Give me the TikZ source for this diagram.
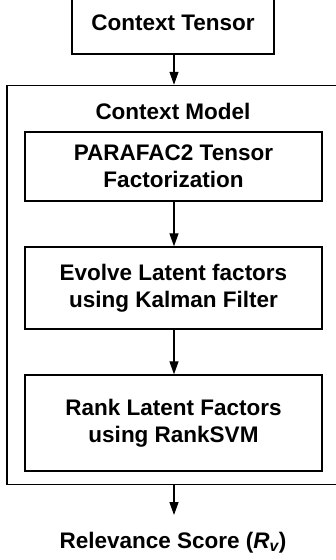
\documentclass[tikz,border=0pt]{standalone}
\usepackage{fontspec}
\setmainfont{Liberation Sans}
\usetikzlibrary{arrows.meta}
\begin{document}
\begin{tikzpicture}[x=1pt,y=-1pt,
  every node/.style={font=\fontsize{22.5}{27}\selectfont\bfseries, align=center, inner sep=0pt},
  box/.style={draw, line width=1.4pt, minimum width=297pt},
  arr/.style={line width=1.3pt, -{Triangle[width=9pt,length=13pt]}}]
\useasboundingbox (0,0) rectangle (336,560);
\clip (0,0) rectangle (336,560);
\node[draw, line width=1.4pt, minimum width=202pt, minimum height=62pt] (ct) at (173,23) {Context Tensor};
\node[draw, line width=1.5pt, minimum width=360pt, minimum height=399pt] (cm) at (187,285) {};
\node (cml) at (173,111) {Context Model};
\node[box, minimum height=69pt] (b1) at (173.5,166.5) {PARAFAC2 Tensor\\Factorization};
\node[box, minimum height=82pt] (b2) at (173.5,288) {Evolve Latent factors\\using Kalman Filter};
\node[box, minimum height=96pt] (b3) at (173.5,423) {Rank Latent Factors\\using RankSVM};
\node (rs) at (173,543) {Relevance Score (\textit{R\textsubscript{v}})};
\coordinate (rsa) at (174,515);
\draw[arr] (ct.south -| 174,0) -- (cm.north -| 174,0);
\draw[arr] (b1.south -| 174,0) -- (b2.north -| 174,0);
\draw[arr] (b2.south -| 174,0) -- (b3.north -| 174,0);
\draw[arr] (cm.south -| 174,0) -- (rsa);
\end{tikzpicture}
\end{document}
